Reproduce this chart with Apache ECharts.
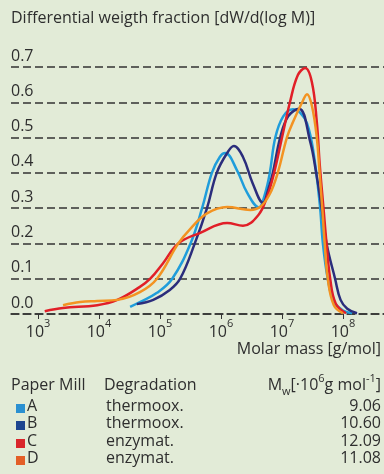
<!DOCTYPE html>
<html>
<head>
<meta charset="utf-8">
<script src="https://cdn.jsdelivr.net/npm/echarts@6/dist/echarts.min.js"></script>
<style>
html, body { margin: 0; padding: 0; background: #e2ebd7; }
#container { width: 384px; height: 474px; }
</style>
</head>
<body>
<div id="container"></div>
<script>
// x = log10 of molar mass, y = dW/d(log M)
var millA_logM = [4.51, 4.67, 4.95, 5.20, 5.50, 5.69, 5.85, 5.98, 6.07, 6.26, 6.43, 6.62, 6.72, 6.80, 6.89, 7.02, 7.18, 7.30, 7.41, 7.51, 7.62, 7.67, 7.75, 7.85, 8.00, 8.15];
var millA_w    = [0.02, 0.034, 0.06, 0.10, 0.20, 0.30, 0.40, 0.445, 0.456, 0.408, 0.343, 0.302, 0.34, 0.40, 0.50, 0.56, 0.58, 0.57, 0.54, 0.465, 0.31, 0.20, 0.10, 0.035, 0.01, 0.002];

var millB_logM = [4.62, 4.89, 5.16, 5.33, 5.57, 5.77, 5.93, 6.10, 6.21, 6.36, 6.52, 6.69, 6.77, 6.85, 6.97, 7.10, 7.28, 7.46, 7.56, 7.65, 7.73, 7.87, 7.96, 8.07, 8.23];
var millB_w    = [0.028, 0.04, 0.068, 0.10, 0.20, 0.30, 0.40, 0.456, 0.476, 0.445, 0.37, 0.315, 0.35, 0.40, 0.50, 0.56, 0.582, 0.49, 0.40, 0.30, 0.20, 0.10, 0.04, 0.015, 0.002];

var millC_logM = [3.11, 3.41, 3.97, 4.30, 4.67, 4.84, 5.05, 5.30, 5.66, 6.10, 6.36, 6.61, 6.75, 6.87, 7.00, 7.13, 7.26, 7.38, 7.49, 7.57, 7.62, 7.68, 7.73, 7.79, 7.88, 8.05];
var millC_w    = [0.008, 0.017, 0.025, 0.04, 0.077, 0.10, 0.144, 0.20, 0.23, 0.258, 0.25, 0.28, 0.33, 0.40, 0.50, 0.60, 0.677, 0.697, 0.657, 0.545, 0.42, 0.30, 0.20, 0.10, 0.03, 0.002];

var millD_logM = [3.41, 3.69, 3.97, 4.30, 4.67, 4.95, 5.30, 5.49, 5.77, 6.10, 6.48, 6.64, 6.80, 6.93, 7.08, 7.18, 7.33, 7.41, 7.49, 7.57, 7.62, 7.66, 7.70, 7.75, 7.85, 8.00];
var millD_w    = [0.025, 0.034, 0.037, 0.04, 0.062, 0.10, 0.20, 0.24, 0.285, 0.303, 0.295, 0.303, 0.34, 0.40, 0.50, 0.544, 0.60, 0.623, 0.59, 0.50, 0.39, 0.30, 0.20, 0.10, 0.025, 0.002];

var xTickExponents = [3, 4, 5, 6, 7, 8];

var mills = ['A', 'B', 'C', 'D'];
var degradation = ['thermoox.', 'thermoox.', 'enzymat.', 'enzymat.'];
var mwValues = ['9.06', '10.60', '12.09', '11.08'];
var lineColors = ['#1f9ddb', '#2b2d7c', '#e11f28', '#f39322'];
var boxColors = ['#2a90d1', '#1d4590', '#d9262b', '#e35e26'];

function pairs(xs, ys) {
    return xs.map(function (x, i) { return [x, ys[i]]; });
}

var font = 'Open Sans';
var textColor = '#2e2e2e';

var dom = document.getElementById('container');
var myChart = echarts.init(dom);

var graphics = [
    { type: 'text', left: 11, top: 10,
      style: { text: 'Differential weigth fraction [dW/d(log M)]', fontFamily: font, fontSize: 16, fill: textColor } },
    { type: 'text', right: 3, top: 341,
      style: { text: 'Molar mass [g/mol]', fontFamily: font, fontSize: 16, fill: textColor } },
    { type: 'text', left: 11, top: 377,
      style: { text: 'Paper Mill', fontFamily: font, fontSize: 16, fill: textColor } },
    { type: 'text', left: 104, top: 377,
      style: { text: 'Degradation', fontFamily: font, fontSize: 16, fill: textColor } },
    { type: 'text', right: 3, top: 373,
      style: {
          text: '{m|M}{sub|w}{m|[·10}{sup|6}{m|g mol}{sup|-1}{m|]}',
          fontFamily: font, fill: textColor,
          rich: {
              m: { fontFamily: font, fontSize: 16, lineHeight: 24, verticalAlign: 'middle', fill: textColor },
              sub: { fontFamily: font, fontSize: 11, lineHeight: 24, verticalAlign: 'bottom', fill: textColor },
              sup: { fontFamily: font, fontSize: 11, lineHeight: 24, verticalAlign: 'top', fill: textColor }
          }
      } }
];

var rowY = [408, 425, 443, 460];
mills.forEach(function (m, i) {
    graphics.push({ type: 'rect', shape: { x: 16, y: rowY[i] - 4, width: 9, height: 9 }, style: { fill: boxColors[i] } });
    graphics.push({ type: 'text', left: 27, top: rowY[i] - 10,
        style: { text: m, fontFamily: font, fontSize: 16, fill: textColor } });
    graphics.push({ type: 'text', left: 106, top: rowY[i] - 10,
        style: { text: degradation[i], fontFamily: font, fontSize: 16, fill: textColor } });
    graphics.push({ type: 'text', right: 3, top: rowY[i] - 10,
        style: { text: mwValues[i], fontFamily: font, fontSize: 16, fill: textColor } });
});

var seriesData = [
    pairs(millA_logM, millA_w),
    pairs(millB_logM, millB_w),
    pairs(millC_logM, millC_w),
    pairs(millD_logM, millD_w)
];

option = {
    backgroundColor: '#e2ebd7',
    animation: false,
    grid: { left: 11, right: 0, top: 67, bottom: 160 },
    xAxis: {
        type: 'value',
        min: 2.557,
        max: 8.672,
        axisLine: { show: true, lineStyle: { color: '#333', width: 1.5, type: [8, 4] } },
        axisTick: { show: true, customValues: xTickExponents, length: 5, lineStyle: { color: '#333', width: 1 } },
        splitLine: { show: false },
        axisLabel: {
            customValues: xTickExponents,
            margin: 4,
            formatter: function (v) { return '{b|10}{s|' + v + '}'; },
            rich: {
                b: { fontFamily: font, fontSize: 16, lineHeight: 22, verticalAlign: 'bottom', color: textColor },
                s: { fontFamily: font, fontSize: 11, lineHeight: 22, verticalAlign: 'top', color: textColor }
            }
        }
    },
    yAxis: {
        type: 'value',
        min: 0,
        max: 0.7,
        interval: 0.1,
        axisLine: { show: false },
        axisTick: { show: false },
        splitLine: { show: true, lineStyle: { color: '#333', width: 1.5, type: [8, 4] } },
        axisLabel: {
            inside: true,
            margin: 0,
            align: 'left',
            verticalAlign: 'bottom',
            padding: [0, 0, 3, 0],
            fontFamily: font,
            fontSize: 16,
            color: textColor,
            formatter: function (v) { return v.toFixed(1); }
        }
    },
    graphic: graphics,
    series: mills.map(function (m, i) {
        return {
            name: m,
            type: 'line',
            smooth: 0.4,
            showSymbol: false,
            data: seriesData[i],
            lineStyle: { color: lineColors[i], width: 2.5 },
            itemStyle: { color: lineColors[i] }
        };
    })
};

if (option && typeof option === "object") {
    myChart.setOption(option, true);
}
</script>
</body>
</html>
